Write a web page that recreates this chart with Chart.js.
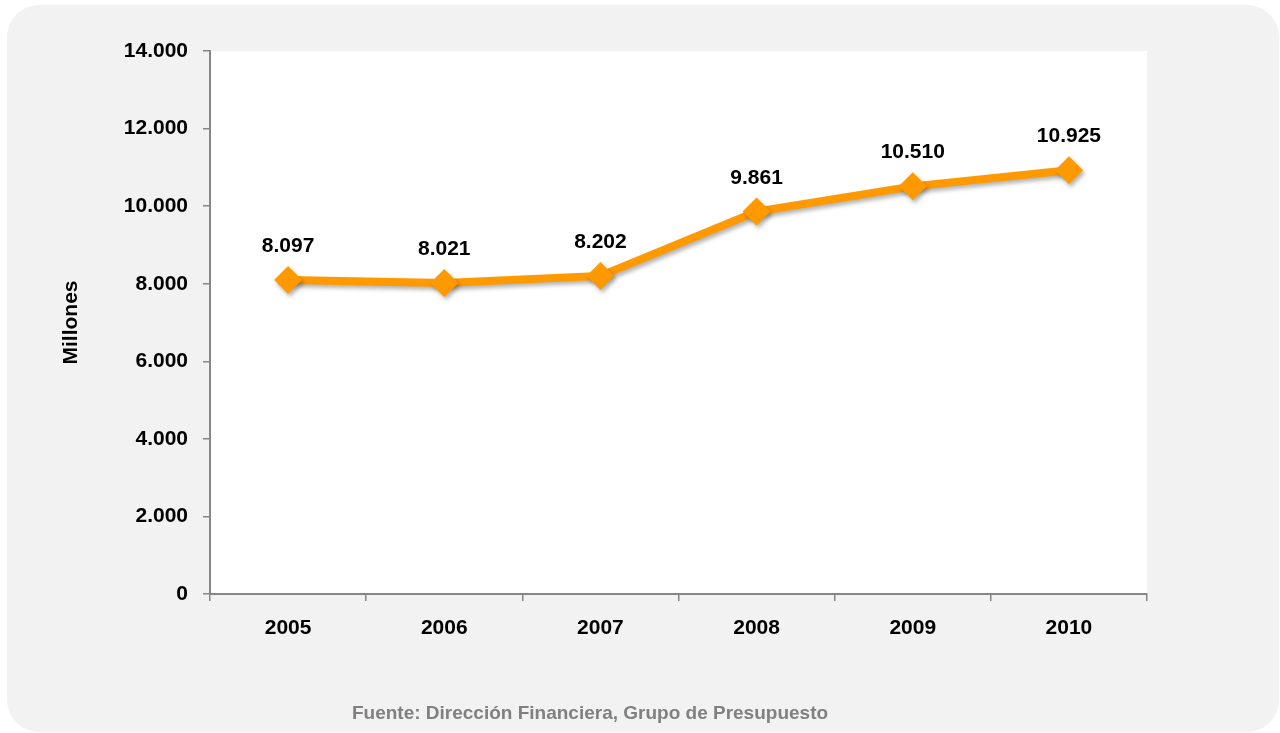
<!DOCTYPE html>
<html>
<head>
<meta charset="utf-8">
<script src="https://cdn.jsdelivr.net/npm/chart.js@4.4.0/dist/chart.umd.min.js"></script>
<style>
    body { margin: 0; background: #ffffff; }
    #panel { position: absolute; left: 7px; top: 5px; width: 1272px; height: 727px; background: #f2f2f2; border-radius: 32px; }
    #grafico-wrap { position: absolute; left: 0; top: 0; width: 1280px; height: 733px; }
    #fuente { position: absolute; left: 0; width: 1180px; top: 702px; text-align: center;
              font: bold 19px "Liberation Sans Narrow", "Arial Narrow", "Liberation Sans", sans-serif; color: #808080; }
</style>
</head>
<body>
<div id="panel"></div>
<div id="grafico-wrap"><canvas id="graficoPresupuesto" width="1280" height="733"></canvas></div>
<div id="fuente">Fuente: Dirección Financiera, Grupo de Presupuesto</div>

<script>
const anos = ['2005', '2006', '2007', '2008', '2009', '2010'];
const valores = [8097, 8021, 8202, 9861, 10510, 10925];
const ejeYMin = 0;
const ejeYMax = 14000;
const ejeYPaso = 2000;

const fuenteNarrow = '"Liberation Sans Narrow", "Arial Narrow", "Liberation Sans", sans-serif';
const naranja = 'rgb(255, 153, 0)';
const grisEje = '#868686';

function formatoMiles(valor) {
    return valor.toLocaleString('de-DE');
}

// fondo blanco del area de trazado
const fondoPlugin = {
    id: 'fondoArea',
    beforeDraw(chart) {
        const { ctx, chartArea } = chart;
        ctx.save();
        ctx.fillStyle = '#ffffff';
        ctx.fillRect(chartArea.left, chartArea.top, chartArea.right - chartArea.left, chartArea.bottom - chartArea.top);
        ctx.restore();
    }
};

// sombra de la linea + etiquetas de valor sobre cada punto
const etiquetasPlugin = {
    id: 'etiquetasValor',
    beforeDatasetsDraw(chart) {
        const ctx = chart.ctx;
        ctx.save();
        ctx.shadowColor = 'rgba(0, 0, 0, 0.3)';
        ctx.shadowBlur = 4;
        ctx.shadowOffsetX = 2;
        ctx.shadowOffsetY = 3;
    },
    afterDatasetsDraw(chart) {
        const ctx = chart.ctx;
        ctx.restore();
        const meta = chart.getDatasetMeta(0);
        ctx.save();
        ctx.font = 'bold 21px ' + fuenteNarrow;
        ctx.fillStyle = '#000000';
        ctx.textAlign = 'center';
        ctx.textBaseline = 'alphabetic';
        meta.data.forEach((punto, i) => {
            ctx.fillText(formatoMiles(chart.data.datasets[0].data[i]), punto.x, punto.y - 28);
        });
        ctx.restore();
    }
};

const ctx = document.getElementById('graficoPresupuesto').getContext('2d');
new Chart(ctx, {
    type: 'line',
    data: {
        labels: anos,
        datasets: [{
            data: valores,
            borderColor: naranja,
            backgroundColor: naranja,
            borderWidth: 8,
            pointStyle: 'rectRot',
            pointRadius: 14,
            pointHoverRadius: 14,
            pointBorderWidth: 0,
            fill: false,
            tension: 0
        }]
    },
    options: {
        responsive: false,
        animation: false,
        layout: {
            padding: { top: 51, right: 133, bottom: 89, left: 0 }
        },
        plugins: {
            legend: { display: false },
            tooltip: { enabled: false }
        },
        scales: {
            x: {
                offset: true,
                grid: {
                    offset: true,
                    drawOnChartArea: false,
                    drawTicks: true,
                    tickLength: 7,
                    color: grisEje,
                    lineWidth: 1.5
                },
                border: { display: true, color: grisEje, width: 2 },
                ticks: {
                    color: '#000000',
                    padding: 15,
                    font: { family: fuenteNarrow, size: 21, weight: 'bold' }
                },
                afterFit(scale) { scale.height = 50; }
            },
            y: {
                min: ejeYMin,
                max: ejeYMax,
                grid: {
                    drawOnChartArea: false,
                    drawTicks: true,
                    tickLength: 7,
                    color: grisEje,
                    lineWidth: 1.5
                },
                border: { display: true, color: grisEje, width: 2 },
                ticks: {
                    stepSize: ejeYPaso,
                    color: '#000000',
                    padding: 15,
                    font: { family: fuenteNarrow, size: 21, weight: 'bold' },
                    callback: value => formatoMiles(value)
                },
                title: {
                    display: true,
                    text: 'Millones',
                    color: '#000000',
                    padding: { top: 59, bottom: 0 },
                    font: { family: fuenteNarrow, size: 21, weight: 'bold' }
                },
                afterFit(scale) { scale.width = 210; }
            }
        }
    },
    plugins: [fondoPlugin, etiquetasPlugin]
});
</script>
</body>
</html>
